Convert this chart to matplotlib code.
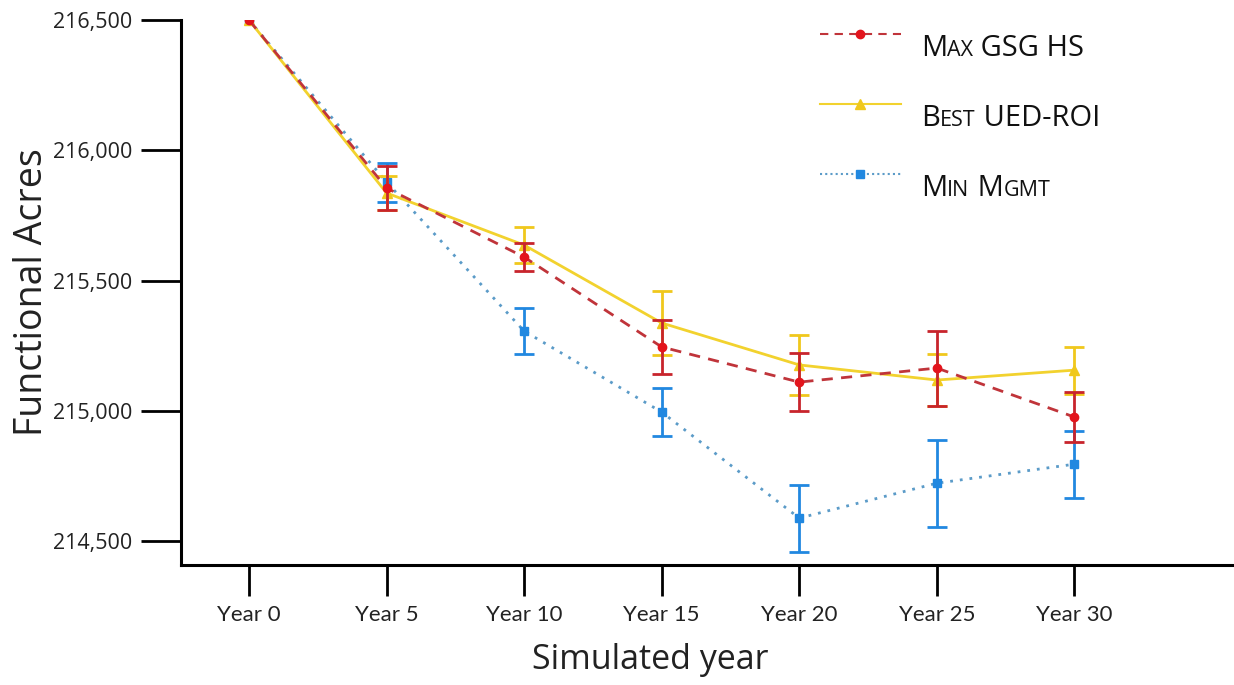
import matplotlib
matplotlib.use("Agg")
import matplotlib.pyplot as plt
from matplotlib.lines import Line2D
from matplotlib.ticker import FuncFormatter
from matplotlib.offsetbox import TextArea, HPacker, AnnotationBbox

# ---- data ----
years = [0, 5, 10, 15, 20, 25, 30]
year_labels = ["Year 0", "Year 5", "Year 10", "Year 15", "Year 20", "Year 25", "Year 30"]

max_gsg_hs = [216500, 215855, 215590, 215245, 215110, 215164, 214976]
max_gsg_hs_err = [0, 85, 55, 102, 111, 144, 96]

best_ued_roi = [216500, 215836, 215636, 215337, 215176, 215118, 215156]
best_ued_roi_err = [0, 65, 69, 123, 115, 100, 90]

min_mgmt = [216500, 215878, 215306, 214995, 214588, 214722, 214795]
min_mgmt_err = [0, 75, 88, 92, 129, 167, 129]

series_labels = ["Max GSG HS", "Best UED-ROI", "Min Mgmt"]
y_ticks = [214500, 215000, 215500, 216000, 216500]

# ---- styles ----
RED_LINE, RED_PT, RED_BAR = "#c0343a", "#e3141c", "#c8242c"
YEL_LINE, YEL_PT = "#f2d22e", "#f0c81c"
BLU_LINE, BLU_PT = "#5b9bc8", "#2188e0"
TEXT_FONT = ["Open Sans", "DejaVu Sans"]

W, H = 1234, 685
fig = plt.figure(figsize=(W / 100, H / 100), dpi=100)
ax = fig.add_axes([181 / W, (H - 565) / H, (W - 181) / W, (565 - 20) / H])


def draw(vals, errs, line_c, pt_c, bar_c, ls, marker, ms, z):
    # error bars only where there is spread (the starting year has none)
    idx = [i for i, e in enumerate(errs) if e > 0]
    ax.errorbar([years[i] for i in idx], [vals[i] for i in idx],
                yerr=[errs[i] for i in idx], fmt="none", ecolor=bar_c,
                elinewidth=2, capsize=7, capthick=2, zorder=z)
    ax.plot(years, vals, color=line_c, linestyle=ls, linewidth=2, zorder=z + 0.5)
    ax.plot(years, vals, linestyle="none", marker=marker, markersize=ms,
            color=pt_c, markeredgecolor=pt_c, zorder=z + 1)


draw(min_mgmt, min_mgmt_err, BLU_LINE, BLU_PT, BLU_PT, (0, (1, 2.5)), "s", 6, 2)
draw(best_ued_roi, best_ued_roi_err, YEL_LINE, YEL_PT, YEL_PT, "-", "^", 6.5, 4)
draw(max_gsg_hs, max_gsg_hs_err, RED_LINE, RED_PT, RED_BAR, (0, (4, 3)), "o", 6, 6)

ax.set_xlim(-2.47, 35.8)
ax.set_ylim(214408, 216500)

for s in ["top", "right"]:
    ax.spines[s].set_visible(False)
for s in ["left", "bottom"]:
    ax.spines[s].set_linewidth(2.2)
    ax.spines[s].set_color("black")

ax.set_yticks(y_ticks)
ax.yaxis.set_major_formatter(FuncFormatter(lambda v, p: f"{v:,.0f}"))
ax.tick_params(axis="y", direction="out", length=29, width=2, pad=6, labelsize=15.5)
for t in ax.get_yticklabels():
    t.set_family(TEXT_FONT)
    t.set_color("#222222")

ax.set_xticks(years)
ax.set_xticklabels(year_labels, family=["Lato", "DejaVu Sans"], fontsize=16, color="#222222")
ax.tick_params(axis="x", direction="out", length=22, width=2, pad=7)

fig.text(32 / W, 1 - 292 / H, "Functional Acres", rotation=90, ha="center", va="center",
         fontsize=27, family=TEXT_FONT, color="#222222")
fig.text(650 / W, 1 - 660 / H, "Simulated year", ha="center", va="center",
         fontsize=24.5, family=TEXT_FONT, color="#222222")

# ---- legend: handles from the library, labels set in small capitals ----
handles = [
    Line2D([], [], color=RED_LINE, linestyle=(0, (4, 3)), linewidth=1.5,
           marker="o", markersize=6, markerfacecolor=RED_PT, markeredgecolor=RED_PT),
    Line2D([], [], color=YEL_LINE, linestyle="-", linewidth=1.5,
           marker="^", markersize=6.5, markerfacecolor=YEL_PT, markeredgecolor=YEL_PT),
    Line2D([], [], color=BLU_LINE, linestyle=(0, (1, 1.5)), linewidth=1.5,
           marker="s", markersize=6, markerfacecolor=BLU_PT, markeredgecolor=BLU_PT),
]
leg = ax.legend(handles, [" "] * 3, loc="upper left", frameon=False,
                bbox_to_anchor=(820 / W, 1 - 22 / H), bbox_transform=fig.transFigure,
                fontsize=20, handlelength=2.9, labelspacing=1.5, borderpad=0,
                borderaxespad=0, handletextpad=0.3)


def small_caps(label, big=21, small=15.5):
    pieces = []
    cur, cur_low = "", None
    for ch in label:
        low = ch.islower()
        if cur and low != cur_low:
            pieces.append((cur, cur_low))
            cur = ""
        cur += ch.upper() if low else ch
        cur_low = low
    if cur:
        pieces.append((cur, cur_low))
    kids = [TextArea(txt, textprops=dict(fontsize=small if low else big,
                                         family=TEXT_FONT, color="#111111"))
            for txt, low in pieces]
    return HPacker(children=kids, align="baseline", pad=0, sep=0)


row_y = [48, 118, 188]
for lab, yy in zip(series_labels, row_y):
    ab = AnnotationBbox(small_caps(lab), (921 / W, 1 - yy / H), xycoords="figure fraction",
                        box_alignment=(0, 0.5), frameon=False, pad=0)
    fig.add_artist(ab)

fig.savefig("out.png", dpi=100, facecolor="white")
